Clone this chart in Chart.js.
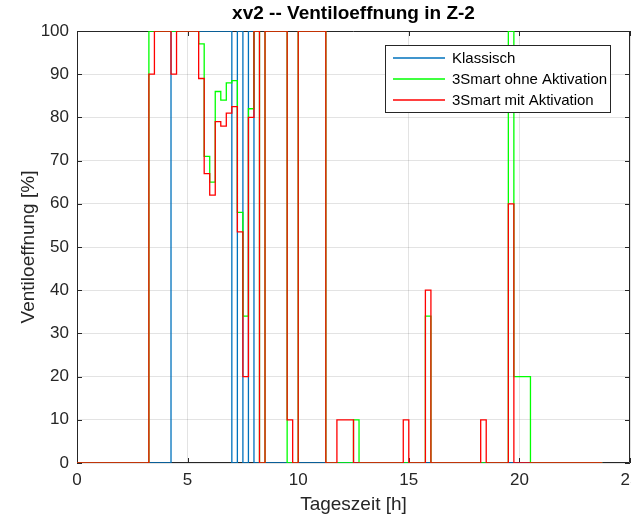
<!DOCTYPE html>
<html>
<head>
<meta charset="utf-8">
<title>xv2 -- Ventiloeffnung in Z-2</title>
<script src="https://cdn.jsdelivr.net/npm/chart.js@4.4.1/dist/chart.umd.min.js"></script>
<style>
  html, body { margin: 0; padding: 0; background: #fff; }
  #wrap { width: 631px; height: 516px; }
</style>
</head>
<body>
<div id="wrap"><canvas id="valveChart" width="631" height="516"></canvas></div>
<script>
// step series: time [h] where a value starts, and the valve opening [%] from there on
const klassischT = [0, 4.25, 7.0, 7.25, 7.5, 7.75, 8.0, 23.75];
const klassischV = [0, 100, 0, 100, 0, 100, 0, 0];

const ohneT = [0, 3.25, 5.5, 5.75, 6.0, 6.25, 6.5, 6.75, 7.0, 7.25, 7.5, 7.75, 8.0, 8.25, 8.5,
               9.5, 10.0, 11.25, 12.5, 12.75, 15.75, 16.0, 19.5, 19.75, 20.5, 23.75];
const ohneV = [0, 100, 97, 71, 65, 86, 84, 88, 88.5, 58, 34, 82, 100, 0, 100,
               0, 100, 0, 10, 0, 34, 0, 100, 20, 0, 0];

const mitT = [0, 3.25, 3.5, 4.25, 4.5, 5.5, 5.75, 6.0, 6.25, 6.5, 6.75, 7.0, 7.25, 7.5, 7.75,
              8.0, 8.25, 8.5, 9.5, 9.75, 10.0, 11.25, 11.75, 12.5, 14.75, 15.0, 15.75, 16.0,
              18.25, 18.5, 19.5, 19.75, 23.75];
const mitV = [0, 90, 100, 90, 100, 89, 67, 62, 79, 78, 81, 82.5, 53.5, 20, 80,
              100, 0, 100, 10, 0, 100, 0, 10, 0, 10, 0, 40, 0,
              10, 0, 60, 0, 0];

const seriesNames  = ["Klassisch", "3Smart ohne Aktivation", "3Smart mit Aktivation"];
const seriesColors = ["#0072bd", "#00ff00", "#ff0000"];

const xTicks = [0, 5, 10, 15, 20, 25];
const yTicks = [0, 10, 20, 30, 40, 50, 60, 70, 80, 90, 100];

const FONT = "'Liberation Sans', Arial, Helvetica, sans-serif";
const INK = "#262626";

function toPoints(times, values) {
  return times.map((t, i) => ({ x: t, y: values[i] }));
}

// frame round the plot with inward tick marks on all four sides
const axesBox = {
  id: "axesBox",
  beforeDatasetsDraw(chart) {
    const { ctx, chartArea: a, scales: { x, y } } = chart;
    const len = 5;
    ctx.save();
    ctx.strokeStyle = INK;
    ctx.lineWidth = 1;
    ctx.beginPath();
    ctx.rect(a.left + 0.5, a.top + 0.5, a.right - a.left - 1, a.bottom - a.top - 1);
    x.ticks.forEach(t => {
      const px = Math.round(x.getPixelForValue(t.value)) + 0.5;
      ctx.moveTo(px, a.bottom); ctx.lineTo(px, a.bottom - len);
      ctx.moveTo(px, a.top);    ctx.lineTo(px, a.top + len);
    });
    y.ticks.forEach(t => {
      const py = Math.round(y.getPixelForValue(t.value)) + 0.5;
      ctx.moveTo(a.left, py);  ctx.lineTo(a.left + len, py);
      ctx.moveTo(a.right, py); ctx.lineTo(a.right - len, py);
    });
    ctx.stroke();
    ctx.restore();
  }
};

// title over the plot area and the boxed legend in the upper right corner
const plotText = {
  id: "plotText",
  afterDraw(chart) {
    const { ctx, chartArea: a } = chart;
    ctx.save();
    ctx.fillStyle = "#000";
    ctx.font = "bold 19px " + FONT;
    ctx.textAlign = "center";
    ctx.textBaseline = "middle";
    ctx.fillText("xv2 -- Ventiloeffnung in Z-2", (a.left + a.right) / 2, 14);

    const bx = 385, by = 45, bw = 225, bh = 67;
    ctx.fillStyle = "#fff";
    ctx.fillRect(bx, by, bw, bh);
    ctx.strokeStyle = INK;
    ctx.lineWidth = 1;
    ctx.strokeRect(bx + 0.5, by + 0.5, bw, bh);

    ctx.font = "15px " + FONT;
    ctx.textAlign = "left";
    seriesNames.forEach((name, i) => {
      const cy = by + 13 + i * 21;
      ctx.strokeStyle = seriesColors[i];
      ctx.lineWidth = 1.6;
      ctx.beginPath();
      ctx.moveTo(bx + 8, cy);
      ctx.lineTo(bx + 60, cy);
      ctx.stroke();
      ctx.fillStyle = "#000";
      ctx.fillText(name, bx + 67, cy + 0.5);
    });
    ctx.restore();
  }
};

const dataSets = [
  { label: seriesNames[0], data: toPoints(klassischT, klassischV), order: 3 },
  { label: seriesNames[1], data: toPoints(ohneT, ohneV), order: 2 },
  { label: seriesNames[2], data: toPoints(mitT, mitV), order: 1 }
].map((d, i) => ({
  ...d,
  borderColor: seriesColors[i],
  backgroundColor: seriesColors[i],
  borderWidth: 1.3,
  pointRadius: 0,
  stepped: "before",
  fill: false
}));

new Chart(document.getElementById("valveChart"), {
  type: "line",
  data: { datasets: dataSets },
  plugins: [axesBox, plotText],
  options: {
    responsive: false,
    animation: false,
    events: [],
    layout: { padding: { top: 31, right: 1, left: 0, bottom: 0 } },
    plugins: {
      legend: { display: false },
      title: { display: false },
      tooltip: { enabled: false }
    },
    scales: {
      x: {
        type: "linear",
        min: 0,
        max: 25,
        afterBuildTicks: s => { s.ticks = xTicks.map(v => ({ value: v })); },
        afterFit: s => { s.height = 53; s.paddingLeft = 0; s.paddingRight = 0; },
        grid: { color: "rgba(38,38,38,0.13)", drawTicks: false },
        border: { display: false },
        ticks: { color: INK, font: { family: FONT, size: 17 }, padding: 7, maxRotation: 0 },
        title: {
          display: true,
          text: "Tageszeit [h]",
          color: INK,
          font: { family: FONT, size: 19 },
          padding: { top: 0, bottom: 0 }
        }
      },
      y: {
        min: 0,
        max: 100,
        afterBuildTicks: s => { s.ticks = yTicks.map(v => ({ value: v })); },
        afterFit: s => { s.width = 77; s.paddingTop = 0; s.paddingBottom = 0; },
        grid: { color: "rgba(38,38,38,0.13)", drawTicks: false },
        border: { display: false },
        ticks: { color: INK, font: { family: FONT, size: 17 }, padding: 8 },
        title: {
          display: true,
          text: "Ventiloeffnung [%]",
          color: INK,
          font: { family: FONT, size: 19 },
          padding: { top: 17, bottom: 0 }
        }
      }
    }
  }
});
</script>
</body>
</html>
